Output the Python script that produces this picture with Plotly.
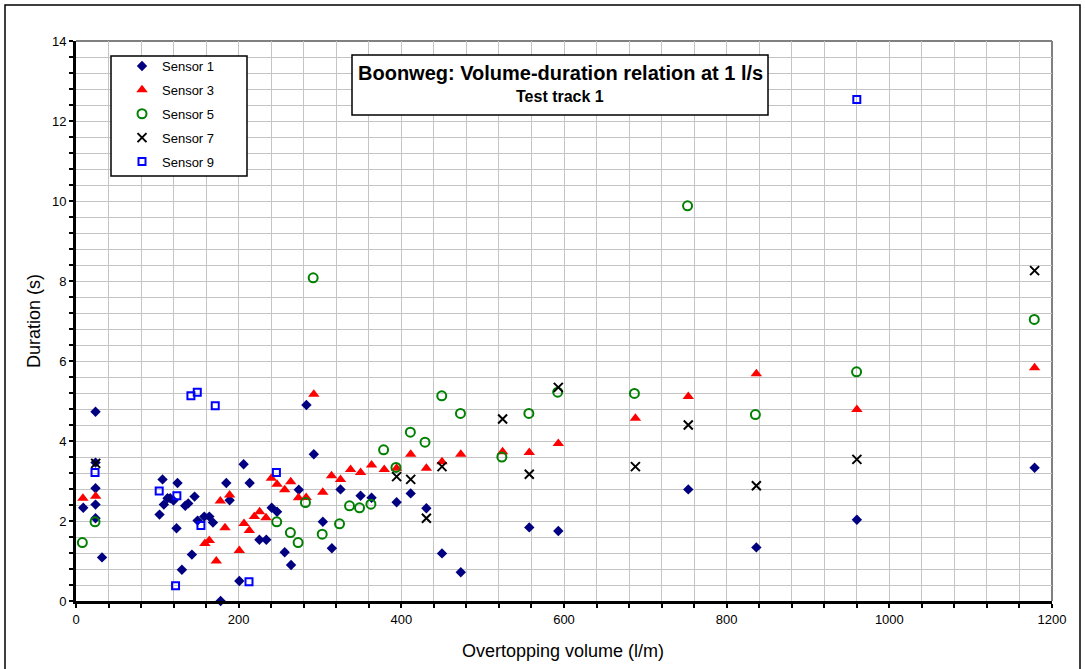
import plotly.graph_objects as go

# Overtopping volume (l/m) and duration (s) per sensor
s1_vol = [8.9, 24, 24, 24, 24, 24, 32, 102.7, 106.4, 108, 112.5, 115.8, 119.9, 123.6,
          124.8, 130.2, 134.3, 138, 142.5, 145.8, 149.5, 157.7, 163.9, 168.4, 177.8,
          184.8, 188.9, 200.8, 206.1, 213.5, 225.5, 234, 240.6, 247.2, 256.6, 264.4,
          273.9, 283.3, 292.4, 303.5, 314.6, 325.2, 349.9, 363.4, 394.2, 411.5, 430.8,
          450, 473.1, 557.3, 593, 752.8, 836.5, 960.1, 1178.6]
s1_dur = [2.33, 4.73, 3.46, 2.82, 2.41, 2.07, 1.09, 2.16, 3.04, 2.41, 2.57, 2.57, 2.51, 1.82,
          2.95, 0.78, 2.38, 2.44, 1.16, 2.61, 2.01, 2.11, 2.11, 1.96, 0.0,
          2.95, 2.52, 0.5, 3.42, 2.95, 1.53, 1.53, 2.33, 2.23, 1.22, 0.90,
          2.78, 4.90, 3.67, 1.98, 1.32, 2.79, 2.63, 2.58, 2.47, 2.69, 2.32,
          1.19, 0.72, 1.84, 1.75, 2.79, 1.34, 2.03, 3.33]

s3_vol = [8.5, 24.2, 158.5, 163.9, 172.5, 177.4, 183.2, 188.9, 200.8, 206.6, 213.1, 219.3,
          225.8, 233.6, 240.2, 247.2, 256.6, 264, 273.5, 283, 292.4, 303.4, 314.2, 325.2,
          337.6, 349.9, 363.4, 379, 394.2, 411.5, 430.8, 450, 473.1, 524.5, 557.3, 593,
          687.8, 752.8, 836.5, 960.1, 1178.6]
s3_dur = [2.57, 2.62, 1.44, 1.51, 1.0, 2.50, 1.83, 2.65, 1.26, 1.94, 1.76, 2.11,
          2.23, 2.08, 3.07, 2.92, 2.78, 2.98, 2.58, 2.59, 5.17, 2.72, 3.13, 3.04,
          3.29, 3.21, 3.40, 3.29, 3.32, 3.67, 3.32, 3.48, 3.67, 3.73, 3.71, 3.94,
          4.57, 5.11, 5.68, 4.79, 5.83]

s5_vol = [7.8, 23.4, 246.8, 263.6, 273.1, 282.1, 291.6, 302.7, 324, 336.3, 348.6, 362.6,
          378.2, 393.4, 411.1, 429.1, 449.7, 472.7, 523.6, 556.8, 592.2, 686.6, 751.9,
          835.3, 959.7, 1178.2]
s5_dur = [1.46, 1.98, 1.98, 1.71, 1.46, 2.46, 8.08, 1.67, 1.93, 2.38, 2.33, 2.42,
          3.78, 3.34, 4.22, 3.97, 5.13, 4.69, 3.60, 4.69, 5.22, 5.19, 9.88,
          4.66, 5.73, 7.04]

s7_vol = [24.2, 394.2, 411.5, 430.8, 450, 524.5, 557.3, 593, 687.8, 752.8, 836.5, 960.1, 1178.6]
s7_dur = [3.44, 3.11, 3.04, 2.07, 3.36, 4.55, 3.17, 5.34, 3.36, 4.40, 2.88, 3.54, 8.26]

s9_vol = [23.4, 102.3, 122.4, 124, 141.3, 149.1, 153.6, 171.2, 212.7, 246.4, 960]
s9_dur = [3.21, 2.75, 0.38, 2.63, 5.13, 5.22, 1.89, 4.88, 0.48, 3.21, 12.54]

x_ticks = [0, 200, 400, 600, 800, 1000, 1200]
y_ticks = [0, 2, 4, 6, 8, 10, 12, 14]

FONT = "Arial, Liberation Sans, sans-serif"
GRID = "#c4c4c4"

W, H = 1085, 669
L, R, T, B = 76, 33, 41, 68
PW, PH = W - L - R, H - T - B


def px(xp):
    return (xp - L) / PW


def py(yp):
    return (H - B - yp) / PH


series = [
    ("Sensor 1", s1_vol, s1_dur, dict(symbol="diamond", size=8, color="#000080")),
    ("Sensor 3", s3_vol, s3_dur, dict(symbol="triangle-up", size=10, color="#ff0000")),
    ("Sensor 5", s5_vol, s5_dur, dict(symbol="circle-open", size=9, color="#008000",
                                      line=dict(width=2, color="#008000"))),
    ("Sensor 7", s7_vol, s7_dur, dict(symbol="x-thin-open", size=9, color="#000000",
                                      line=dict(width=2, color="#000000"))),
    ("Sensor 9", s9_vol, s9_dur, dict(symbol="square-open", size=7, color="#0000ff",
                                      line=dict(width=2, color="#0000ff"))),
]

fig = go.Figure()
for name, xs, ys, mk in series:
    fig.add_trace(go.Scatter(x=xs, y=ys, mode="markers", name=name, marker=mk,
                             legendgroup=name, cliponaxis=False))

axis_common = dict(
    showgrid=True, gridcolor=GRID, gridwidth=1, zeroline=False,
    showline=True, linecolor="black", linewidth=3,
    ticks="outside", ticklen=4, tickwidth=2, tickcolor="black",
    tickfont=dict(family=FONT, size=13, color="black"),
)

fig.update_xaxes(range=[0, 1200], tickvals=x_ticks,
                 minor=dict(dtick=40, tick0=0, showgrid=True, gridcolor=GRID,
                            ticks="outside", ticklen=4, tickwidth=2, tickcolor="black"),
                 **axis_common)
fig.update_yaxes(range=[0, 14], tickvals=y_ticks,
                 minor=dict(dtick=0.4, tick0=0, showgrid=True, gridcolor=GRID,
                            ticks="outside", ticklen=4, tickwidth=2, tickcolor="black"),
                 **axis_common)

shapes = [
    # outer chart frame
    dict(type="rect", xref="paper", yref="paper", x0=px(5), x1=px(1080), y0=py(700), y1=py(5),
         line=dict(color="#000000", width=1.5), layer="below"),
    # plot area top and right edges
    dict(type="line", xref="paper", yref="paper", x0=0, x1=1, y0=1, y1=1,
         line=dict(color="#808080", width=2), layer="below"),
    dict(type="line", xref="paper", yref="paper", x0=1, x1=1, y0=0, y1=1,
         line=dict(color="#808080", width=2), layer="below"),
    # legend box
    dict(type="rect", xref="paper", yref="paper", x0=px(111), x1=px(247), y0=py(176), y1=py(56),
         line=dict(color="#000000", width=1.5), fillcolor="white", layer="above"),
    # title box
    dict(type="rect", xref="paper", yref="paper", x0=px(352), x1=px(768), y0=py(115), y1=py(55),
         line=dict(color="#000000", width=1.5), fillcolor="white", layer="above"),
]

annotations = [
    dict(text="<b>Boonweg: Volume-duration relation at 1 l/s</b>", xref="paper", yref="paper",
         x=px(560), y=py(73), showarrow=False, xanchor="center", yanchor="middle",
         font=dict(family=FONT, size=20, color="black")),
    dict(text="<b>Test track 1</b>", xref="paper", yref="paper",
         x=px(560), y=py(97), showarrow=False, xanchor="center", yanchor="middle",
         font=dict(family=FONT, size=16, color="black")),
    dict(text="Duration (s)", xref="paper", yref="paper", x=px(34), y=py(321),
         showarrow=False, textangle=-90, xanchor="center", yanchor="middle",
         font=dict(family=FONT, size=18, color="black")),
    dict(text="Overtopping volume (l/m)", xref="paper", yref="paper", x=px(563), y=py(651),
         showarrow=False, xanchor="center", yanchor="middle",
         font=dict(family=FONT, size=18, color="black")),
]

fig.update_layout(
    width=W, height=H,
    margin=dict(l=L, r=R, t=T, b=B),
    paper_bgcolor="white", plot_bgcolor="white",
    font=dict(family=FONT, color="black"),
    showlegend=True,
    legend=dict(x=px(122), y=py(51), xanchor="left", yanchor="top",
                bgcolor="rgba(0,0,0,0)", borderwidth=0,
                traceorder="grouped", tracegroupgap=4,
                font=dict(family=FONT, size=13, color="black")),
    shapes=shapes, annotations=annotations,
)

fig.write_html("out.html")
